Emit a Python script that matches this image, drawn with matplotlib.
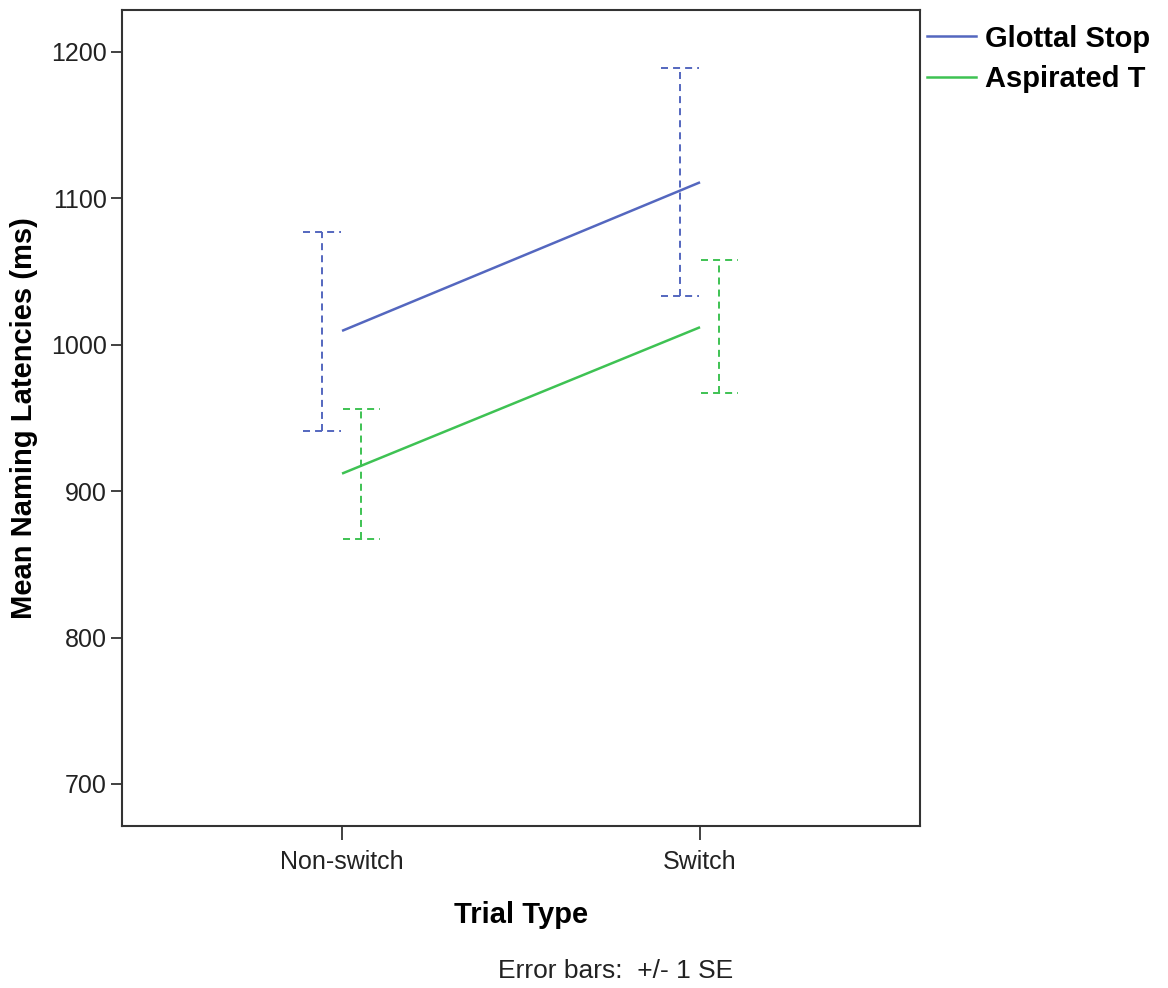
import numpy as np
import matplotlib
matplotlib.use('Agg')
import matplotlib.pyplot as plt
from matplotlib.lines import Line2D

plt.rcParams['font.family'] = ['Liberation Sans', 'DejaVu Sans']

# ── Data ──────────────────────────────────────────────────────────────────────
trial_types = ['Non-switch', 'Switch']
series = ['Glottal Stop', 'Aspirated T']
means = {
    'Glottal Stop': [1009.5, 1111.0],
    'Aspirated T':  [912.0, 1012.0],
}
se_low = {
    'Glottal Stop': [941.0, 1033.5],
    'Aspirated T':  [867.0, 967.0],
}
se_high = {
    'Glottal Stop': [1077.0, 1189.0],
    'Aspirated T':  [956.0, 1058.0],
}
colors = {'Glottal Stop': '#5467bf', 'Aspirated T': '#3ec253'}
dodge = {'Glottal Stop': -0.056, 'Aspirated T': 0.054}
y_ticks = [700, 800, 900, 1000, 1100, 1200]

# ── Figure ────────────────────────────────────────────────────────────────────
fig = plt.figure(figsize=(11.68, 9.88), dpi=100)
ax = fig.add_axes([0.1045, 0.164, 0.6832, 0.8259])

x = np.arange(len(trial_types))
cap = 0.052
dash = (0, (3.6, 2.6))
for name in series:
    c = colors[name]
    ax.plot(x, means[name], color=c, lw=1.8, solid_capstyle='butt')
    xe = x + dodge[name]
    ax.vlines(xe, se_low[name], se_high[name], colors=c, lw=1.4, linestyles=dash)
    ax.hlines(se_low[name], xe - cap, xe + cap, colors=c, lw=1.4, linestyles=dash)
    ax.hlines(se_high[name], xe - cap, xe + cap, colors=c, lw=1.4, linestyles=dash)

ax.set_xlim(-0.6145, 1.6145)
ax.set_ylim(671.3, 1228.7)
ax.set_xticks(x)
ax.set_xticklabels(trial_types)
ax.set_yticks(y_ticks)

for sp in ax.spines.values():
    sp.set_color('#333333')
    sp.set_linewidth(1.5)
ax.tick_params(axis='both', direction='out', length=8, width=1.3,
               color='#333333', labelcolor='#222222', labelsize=18)
ax.tick_params(axis='x', pad=7, length=10)
ax.tick_params(axis='y', pad=3)

ax.set_xlabel('Trial Type', fontsize=21, fontweight='bold', labelpad=20)
ax.set_ylabel('Mean Naming Latencies (ms)', fontsize=21, fontweight='bold',
              labelpad=9)

handles = [Line2D([], [], color=colors[n], lw=1.8) for n in series]
ax.legend(handles, series, loc='upper left', bbox_to_anchor=(0.991, 1.0),
          frameon=False, borderaxespad=0.0, borderpad=0.5,
          handlelength=1.65, handletextpad=0.34, labelspacing=0.42,
          prop={'size': 21, 'weight': 'bold'})

fig.text(0.527, 0.005, 'Error bars:  +/- 1 SE', ha='center', va='bottom',
         fontsize=19, color='#222222')

fig.savefig('out.png', dpi=100, facecolor='white')
